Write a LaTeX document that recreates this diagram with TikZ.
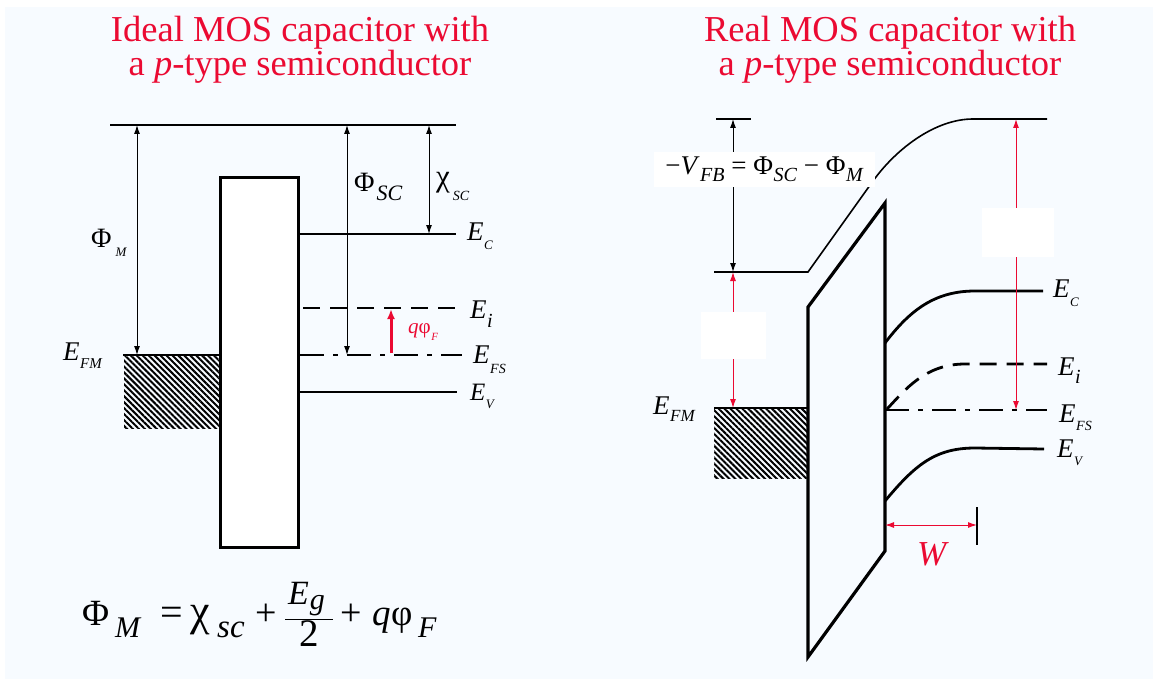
\documentclass[tikz,border=0pt]{standalone}
\usepackage{fontspec}
\setmainfont{Liberation Serif}
\usepackage{xcolor}
\usepackage{tikz}
\usetikzlibrary{arrows.meta}
\usetikzlibrary{patterns.meta}

\definecolor{mosred}{RGB}{235,10,50}
\definecolor{slidebg}{RGB}{247,251,255}
\newcommand{\fsz}[1]{\fontsize{#1}{#1}\selectfont}
\newcommand{\sublbl}[4]{#1\kern0.5pt\raisebox{-#4pt}{\fsz{#3}#2}}
\newcommand{\fpart}[2]{\makebox[#1][l]{#2}}

\begin{document}
\begin{tikzpicture}[x=1pt, y=-1pt,
  every node/.style={inner sep=0pt},
  lbl/.style={anchor=base west, font=\fsz{27pt}},
  band/.style={line width=2.8pt},
  vac/.style={line width=1.6pt},
  dim/.style={{Latex[length=9pt,width=6pt]}-{Latex[length=9pt,width=6pt]}, line width=1pt},
  reddim/.style={dim, draw=mosred},
  eidash/.style={band, dash pattern=on 17pt off 10pt},
  efdash/.style={band, dash pattern=on 24pt off 9pt on 5pt off 9pt},
  metal/.style={pattern={Lines[angle=-45,distance=4.2pt,line width=2pt]}},
  blank/.style={fill=white},
  title/.style={text=mosred, align=center, font=\fontsize{36.5}{33}\selectfont}
]
\fill[slidebg] (5,7) rectangle (1153,679);
\useasboundingbox (0,0) rectangle (1156,682);

\node[title] (t1) at (300,50) {Ideal MOS capacitor with\\a \textit{p}-type semiconductor};
\node[title] (t2) at (890,50) {Real MOS capacitor with\\a \textit{p}-type semiconductor};

% ideal
\coordinate (v1a) at (110,125);
\coordinate (v1b) at (456,125);
\draw[vac] (v1a) -- (v1b);
\node[metal, minimum width=96pt, minimum height=72pt, anchor=north west] (m1) at (123,355) {};
\draw[band] (m1.north west) -- (m1.north east);
\node[draw, line width=3.2pt, fill=white, minimum width=78pt, minimum height=370pt, anchor=north west] (ox1) at (219,176) {};
\draw[band] (297,234) -- (456,234);
\draw[eidash] (303,308) -- (460,308);
\draw[efdash] (300,355) -- (462,355);
\draw[band] (297,392) -- (457,392);

\coordinate (pm1) at (137,125);
\coordinate (pm2) at (137,355);
\coordinate (ps1) at (347,125);
\coordinate (ps2) at (347,355);
\coordinate (chi1) at (429,125);
\coordinate (chi2) at (429,234);
\coordinate (qf1) at (391,353);
\coordinate (qf2) at (391,309);
\draw[dim] (pm1) -- (pm2);
\draw[dim] (ps1) -- (ps2);
\draw[dim] (chi1) -- (chi2);
\draw[-{Latex[length=10pt,width=8pt]}, mosred, line width=3pt] (qf1) -- (qf2);

\node[lbl, font=\fsz{28pt}] (phim) at (91,247) {Φ\kern4pt\raisebox{-9pt}{\fsz{13pt}\textit{M}}};
\node[lbl, font=\fsz{28pt}] (phisc) at (354,191) {Φ\kern2pt\raisebox{-9pt}{\fsz{22pt}\textit{SC}}};
\node[lbl, font=\fsz{31pt}] (chisc) at (436,186) {χ\kern3pt\raisebox{-14pt}{\fsz{14pt}\textit{SC}}};
\node[lbl] (efm1) at (63,360) {\sublbl{\textit{E}}{\textit{FM}}{15pt}{8}};
\node[lbl] (ec1) at (467,240) {\sublbl{\textit{E}}{\textit{C}}{13pt}{9}};
\node[lbl] (ei1) at (470,318) {\sublbl{\textit{E}}{\textit{i}}{20pt}{9}};
\node[lbl] (efs1) at (473,363) {\sublbl{\textit{E}}{\textit{FS}}{14pt}{10}};
\node[lbl, font=\fsz{25pt}] (ev1) at (470,400) {\sublbl{\textit{E}}{\textit{V}}{13pt}{8}};
\node[lbl, font=\fsz{21pt}, text=mosred] (qphi) at (408,333) {\textit{q}\sublbl{φ}{\textit{F}}{11pt}{7}};

\node[anchor=base west, font=\fsz{37pt}] (fml) at (82,625) {\fpart{33pt}{Φ}\fpart{45pt}{\raisebox{-12pt}{\fsz{30pt}\textit{M}}}\fpart{30pt}{{\fsz{40pt}=}}\fpart{27pt}{{\fsz{44pt}χ}}\fpart{38pt}{\raisebox{-12pt}{\fsz{33pt}\textit{sc}}}\fpart{28.8pt}{{\fsz{38pt}+}}$\displaystyle\frac{\hbox{\fpart{48pt}{\kern3pt\raisebox{4pt}{\fsz{34pt}\textit{E}\kern1pt\raisebox{-5pt}{\fsz{30pt}\textit{g}}}}}}{\hbox{\makebox[48pt]{\raisebox{-4pt}{\fsz{39pt}2}}}}$\kern5.8pt\fpart{32pt}{{\fsz{38pt}+}}\fpart{19pt}{\textit{q}}\fpart{27pt}{φ}\raisebox{-12pt}{\fsz{30pt}\textit{F}}};

% real
\draw[vac] (714,272) -- (808,272) -- (873,181) .. controls (896,149) and (935,119) .. (973,119) -- (1047,119);
\draw[vac] (716,119) -- (751,119);
\node[metal, minimum width=94pt, minimum height=70pt, anchor=north west] (m2) at (714,408) {};
\draw[band] (m2.north west) -- (m2.north east);
\draw[line width=3.2pt] (808,307) -- (885,203) -- (885,551) -- (808,657) -- cycle;
\draw[band] (885,343) .. controls (910,310) and (935,291) .. (975,291) -- (1043,291);
\draw[eidash] (887,409) .. controls (905,390) and (925,364) .. (965,364) -- (1047,364);
\draw[efdash] (885,410) -- (1047,410);
\draw[band] (885,501) .. controls (915,465) and (935,448) .. (975,448) -- (1044,449);

\coordinate (fb1) at (733,119);
\coordinate (fb2) at (733,272);
\coordinate (fm2) at (733,408);
\coordinate (sc1) at (1016,119);
\coordinate (sc2) at (1016,410);
\coordinate (w1) at (885,525);
\coordinate (w2) at (977,525);
\draw[dim] (fb1) -- (fb2);
\draw[reddim] (fb2) -- (fm2);
\draw[reddim] (sc1) -- (sc2);
\draw[reddim] (w1) -- (w2);
\draw[line width=2.5pt] (977,507) -- (977,545);

\node[blank, minimum width=221pt, minimum height=35pt, font=\fsz{27pt}] (vfb) at (764.5,169.5) {−\sublbl{\textit{V}}{\textit{FB}}{20pt}{7} = \sublbl{Φ}{\textit{SC}}{20pt}{7} − \sublbl{Φ}{\textit{M}}{20pt}{7}};
\node[blank, minimum width=65pt, minimum height=47pt] (gap1) at (733.5,335.5) {};
\node[blank, minimum width=72pt, minimum height=49pt] (gap2) at (1018,232.5) {};

\node[lbl] (efm2) at (653,414) {\sublbl{\textit{E}}{\textit{FM}}{17pt}{7}};
\node[lbl] (ec2) at (1053,297) {\sublbl{\textit{E}}{\textit{C}}{13pt}{9}};
\node[lbl] (ei2) at (1058,375) {\sublbl{\textit{E}}{\textit{i}}{20pt}{8}};
\node[lbl] (efs2) at (1059,422) {\sublbl{\textit{E}}{\textit{FS}}{14pt}{8}};
\node[lbl] (ev2) at (1057,457) {\sublbl{\textit{E}}{\textit{V}}{13pt}{8}};
\node[lbl, font=\fsz{35pt}, text=mosred] (w) at (917,565) {\textit{W}};
\end{tikzpicture}
\end{document}
